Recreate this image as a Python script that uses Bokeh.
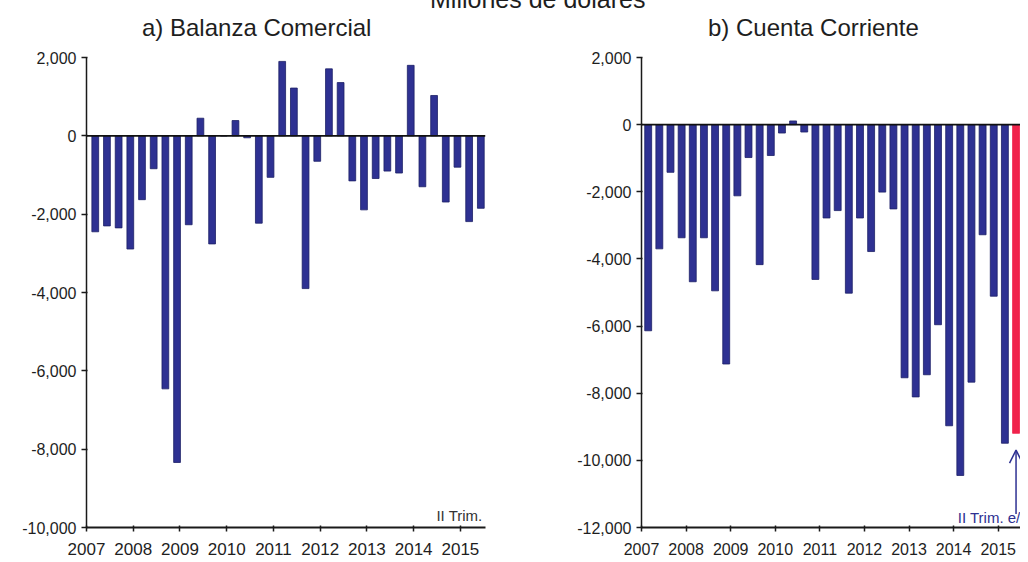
from bokeh.plotting import figure
from bokeh.models import (ColumnDataSource, FixedTicker, Span, Label, Arrow,
                          OpenHead, Div, NumeralTickFormatter, Range1d)
from bokeh.layouts import column, row
from bokeh.embed import file_html
from bokeh.resources import INLINE

# ---------------- data ----------------
years = ["2007", "2008", "2009", "2010", "2011", "2012", "2013", "2014", "2015"]
quarters = [f"{y}-{q}" for y in years for q in ["I", "II", "III", "IV"]][:34]

balanza_comercial = [-2450, -2300, -2350, -2890, -1630, -840, -6460, -8340,
                     -2270, 450, -2760, 0, 390, -50, -2230, -1060,
                     1900, 1220, -3900, -650, 1710, 1360, -1150, -1890,
                     -1090, -900, -950, 1800, -1300, 1030, -1690, -800,
                     -2190, -1850]

cuenta_corriente = [-6140, -3700, -1420, -3370, -4680, -3370, -4950, -7130,
                    -2120, -980, -4170, -920, -250, 110, -220, -4610,
                    -2780, -2560, -5020, -2780, -3780, -2010, -2510, -7540,
                    -8110, -7450, -5960, -8970, -10450, -7670, -3280, -5110,
                    -9490, -9195]

# last quarter of current account is an estimate (e/)
estimado = [False] * 33 + [True]

main_title = "Millones de dólares"
title_a = "a) Balanza Comercial"
title_b = "b) Cuenta Corriente"

BLUE = "#2E3192"
BLUE_EDGE = "#1C1F66"
RED = "#F0234B"
FONT = "Liberation Sans"
TXT = "#1e1e1e"

n = len(quarters)
tick_pos = [4 * k for k in range(len(years))]
tick_labels = {4 * k: y for k, y in enumerate(years)}


def style(p, std, xfs):
    p.outline_line_color = None
    p.xgrid.visible = False
    p.ygrid.visible = False
    p.background_fill_color = None
    p.border_fill_color = None
    p.xaxis.ticker = FixedTicker(ticks=tick_pos)
    p.xaxis.major_label_overrides = tick_labels
    p.xaxis.minor_tick_line_color = None
    p.yaxis.minor_tick_line_color = None
    for ax in (p.xaxis, p.yaxis):
        ax.axis_line_color = "#1a1a1a"
        ax.major_tick_line_color = "#1a1a1a"
        ax.major_label_text_font = FONT
        ax.major_label_text_color = TXT
    p.xaxis.axis_line_width = 2
    p.yaxis.axis_line_width = 1.5
    p.xaxis.major_tick_line_width = 1.5
    p.yaxis.major_tick_line_width = 1.5
    p.xaxis.major_tick_in = 2
    p.xaxis.major_tick_out = 4
    p.yaxis.major_tick_in = 1
    p.yaxis.major_tick_out = 5
    p.xaxis.major_label_text_font_size = xfs
    p.yaxis.major_label_text_font_size = "16px"
    p.xaxis.major_label_standoff = std
    p.yaxis.major_label_standoff = 5
    p.yaxis.formatter = NumeralTickFormatter(format="0,0")
    p.add_layout(Span(location=0, dimension="width", line_color="#111111",
                      line_width=1.8))


# ---------------- panel a ----------------
src_a = ColumnDataSource(dict(x=[i + 0.75 for i in range(n)],
                              v=balanza_comercial, q=quarters))
pa = figure(width=530, height=548, output_backend="svg", toolbar_location=None,
            x_range=Range1d(0, 34.15), y_range=Range1d(-10000, 2000),
            min_border_left=86, min_border_right=45, min_border_top=43,
            min_border_bottom=35)
pa.vbar(x="x", top="v", bottom=0, width=0.58, source=src_a,
        fill_color=BLUE, line_color=BLUE_EDGE, line_width=0.8)
style(pa, 11, "17px")
pa.yaxis.ticker = FixedTicker(ticks=list(range(-10000, 2001, 2000)))
pa.add_layout(Label(x=34.15, y=-10000, text="II Trim.", text_align="right",
                    text_baseline="bottom", x_offset=-3, y_offset=4,
                    text_font=FONT, text_font_size="15px", text_color="#333333"))

# ---------------- panel b ----------------
colors_b = [RED if e else BLUE for e in estimado]
edges_b = [RED if e else BLUE_EDGE for e in estimado]
src_b = ColumnDataSource(dict(x=[i + 0.6 for i in range(n)],
                              v=cuenta_corriente, c=colors_b, lc=edges_b, q=quarters))
pb = figure(width=490, height=548, output_backend="svg", toolbar_location=None,
            x_range=Range1d(0, 34.0), y_range=Range1d(-12000, 2000),
            min_border_left=111, min_border_right=0, min_border_top=43,
            min_border_bottom=35)
pb.vbar(x="x", top="v", bottom=0, width=0.62, source=src_b,
        fill_color="c", line_color="lc", line_width=0.8)
style(pb, 11, "16px")
pb.yaxis.ticker = FixedTicker(ticks=list(range(-12000, 2001, 2000)))

last_x = src_b.data["x"][-1]
last_v = cuenta_corriente[-1]
pb.add_layout(Arrow(end=OpenHead(size=13, line_color=BLUE, line_width=1.5),
                    x_start=last_x, y_start=-11600, x_end=last_x,
                    y_end=last_v - 500, line_color=BLUE, line_width=1.5))
pb.add_layout(Label(x=34.0, y=-12000, text="II Trim. e/", text_align="right",
                    text_baseline="bottom", x_offset=0, y_offset=2,
                    text_font=FONT, text_font_size="15px", text_color=BLUE))

# ---------------- header: overall title (cropped in the original) + panel titles ----------------
base = ("font-family:'Liberation Sans',Arial,sans-serif;color:#1e1e1e;"
        "position:absolute;white-space:nowrap;")
head = Div(text=(f'<div style="{base}font-size:25px;line-height:25px;left:430px;top:-13px;">'
                 f'{main_title}</div>'
                 f'<div style="{base}font-size:24px;line-height:24px;left:142px;top:16px;">'
                 f'{title_a}</div>'
                 f'<div style="{base}font-size:24px;line-height:24px;left:708px;top:16px;">'
                 f'{title_b}</div>'),
           width=1020, height=14, styles={"overflow": "visible", "position": "relative"},
           margin=0)

layout = column(head, row(pa, pb), spacing=0)
open("out.html", "w").write(file_html(layout, INLINE))
